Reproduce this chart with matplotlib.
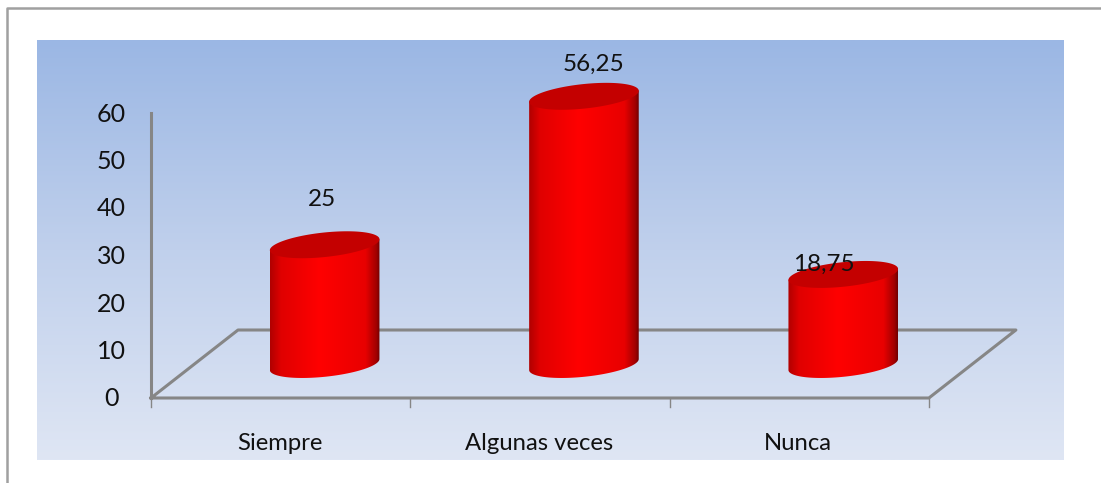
import numpy as np
import matplotlib
matplotlib.use("Agg")
import matplotlib.pyplot as plt
from matplotlib.colors import LinearSegmentedColormap
from matplotlib.patches import Polygon

categories = ["Siempre", "Algunas veces", "Nunca"]
values = [25, 56.25, 18.75]
value_labels = ["25", "56,25", "18,75"]
y_ticks = [0, 10, 20, 30, 40, 50, 60]

W, H = 1101, 483
# picture layout, pixels
PX_PER_UNIT = 4.75   # one value unit on the y axis
PX_PER_CAT = 259.3   # one category on the x axis
Y0_PX = 398          # value 0
X0_PX = 151          # left end of the front floor edge
DEPTH_X, DEPTH_Y = 87, 68

plt.rcParams["font.family"] = ["Lato", "DejaVu Sans"]
fig = plt.figure(figsize=(W / 100, H / 100), dpi=100)
ax = fig.add_axes([0, 0, 1, 1])
# x: category index (0 is the first slot centre), y: value
xlim = ((0 - X0_PX) / PX_PER_CAT - 0.5, (W - X0_PX) / PX_PER_CAT - 0.5)
ylim = ((Y0_PX - H) / PX_PER_UNIT, Y0_PX / PX_PER_UNIT)
ax.axis("off")

dx = 1 / PX_PER_CAT   # data units per pixel
dy = 1 / PX_PER_UNIT
x_left = -0.5
x_right = len(categories) - 0.5

# outer frame, only left and top are inside the picture
frame_x = x_left + (7 - X0_PX) * dx
frame_y = (Y0_PX - 8) * dy
ax.plot([frame_x, frame_x, xlim[1]], [ylim[0], frame_y, frame_y], color="#a0a0a0", lw=1.8)

# background panel
bg = LinearSegmentedColormap.from_list("bg", ["#9bb7e4", "#c0d0ec", "#dfe6f4"])
ax.imshow(np.linspace(0, 1, 256).reshape(-1, 1), cmap=bg, aspect="auto", zorder=1,
          extent=[x_left + (37 - X0_PX) * dx, x_left + (1064 - X0_PX) * dx,
                  (Y0_PX - 460) * dy, (Y0_PX - 40) * dy])

# floor and axis lines
grey = "#868686"
floor_x = np.array([x_left, x_left + DEPTH_X * dx, x_right + DEPTH_X * dx, x_right, x_left])
floor_y = np.array([0, DEPTH_Y * dy, DEPTH_Y * dy, 0, 0])
ax.plot(floor_x, floor_y, color=grey, lw=2.2, zorder=2, solid_joinstyle="round")
ax.plot([x_left, x_left], [0, y_ticks[-1]], color=grey, lw=2.2, zorder=2)
for i in range(len(categories) + 1):
    ax.plot([x_left + i] * 2, [0, -9 * dy], color=grey, lw=1, zorder=2)

for t in y_ticks:
    ax.text(x_left - 39.5 * dx, t - 1 * dy, str(t), ha="center", va="center", fontsize=18, color="#111111", zorder=5)
for i, c in enumerate(categories):
    ax.text(i - 1 * dx, -46 * dy, c, ha="center", va="center", fontsize=17.2, color="#111111", zorder=5)

# cylinders
body_cmap = LinearSegmentedColormap.from_list(
    "body", [(0, "#b00000"), (0.1, "#e00000"), (0.45, "#ff0000"), (0.87, "#e80000"),
             (0.97, "#a00000"), (1, "#700000")])
R_PX, B_PX, TILT_PX = 54.8, 12.3, 5.5
label_gap_px = [46, 33, 11]
label_shift_px = [-3, 10, -19]
for i, v in enumerate(values):
    cx = i + 44 * dx
    base = 33.5 * dy
    t = np.linspace(np.pi, 3 * np.pi, 200)
    ell_x = R_PX * np.cos(t) * dx
    ell_y = (B_PX * np.sin(t) + TILT_PX * np.cos(t)) * dy
    # side outline: front half of the base ellipse, back half of the top one
    half = t <= 2 * np.pi
    px = cx + ell_x
    py = ell_y + np.where(half, base, base + v)
    side = Polygon(np.c_[px, py], closed=True, facecolor="none", edgecolor="none", zorder=3)
    ax.add_patch(side)
    im = ax.imshow(np.linspace(0, 1, 256).reshape(1, -1), cmap=body_cmap, aspect="auto", zorder=3,
                   extent=[cx - R_PX * dx, cx + R_PX * dx, base - 20 * dy, base + v + 20 * dy])
    im.set_clip_path(side)
    ax.fill(cx + ell_x, base + v + ell_y + 1 * dy, color="#c40000", zorder=4, lw=0)
    ax.text(cx + label_shift_px[i] * dx, base + v + label_gap_px[i] * dy, value_labels[i],
            ha="center", va="center", fontsize=17.5, color="#111111", zorder=5)

ax.set_xlim(xlim)
ax.set_ylim(ylim)
fig.savefig("out.png", dpi=100, facecolor="white")
